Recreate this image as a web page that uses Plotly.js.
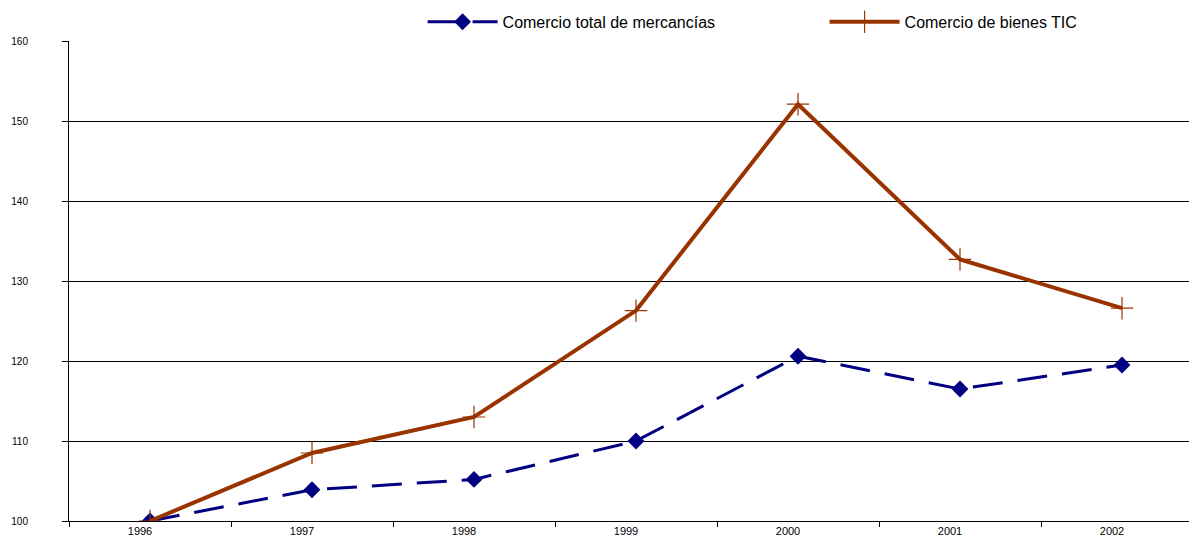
<!DOCTYPE html>
<html>
<head>
<meta charset="utf-8">
<script src="https://cdn.plot.ly/plotly-3.0.1.min.js"></script>
<style>
html,body{margin:0;padding:0;overflow:hidden;background:#fff;}
#chart{width:1203px;height:542px;}
</style>
</head>
<body>
<div id="chart"></div>
<script>
const years = ['1996','1997','1998','1999','2000','2001','2002'];
const totalTrade = [100, 103.9, 105.2, 110, 120.6, 116.5, 119.5];
const ictTrade = [100, 108.5, 113.0, 126.3, 152.1, 132.7, 126.6];
const yTicks = [100, 110, 120, 130, 140, 150, 160];

const traces = [
  {
    x: years, y: totalTrade, type: 'scatter', mode: 'lines+markers',
    name: 'Comercio total de mercancías',
    line: {color: '#000080', width: 3, dash: '30px,15px'},
    marker: {symbol: 'diamond', size: 13, color: '#000080'}
  },
  {
    x: years, y: ictTrade, type: 'scatter', mode: 'lines+markers',
    name: 'Comercio de bienes TIC',
    line: {color: '#993300', width: 4},
    marker: {symbol: 'cross-thin-open', size: 16, line: {color: '#993300', width: 1.2}}
  }
];

const layout = {
  width: 1203, height: 542,
  margin: {l: 69, r: 0, t: 41, b: 21, autoexpand: false},
  paper_bgcolor: '#fff', plot_bgcolor: '#fff',
  font: {family: 'Arial, "Liberation Sans", sans-serif', color: '#000'},
  showlegend: true,
  legend: {
    orientation: 'h', x: 0.3118, xanchor: 'left', y: 1.04, yanchor: 'middle',
    font: {size: 16, color: '#000'}, itemwidth: 70, entrywidth: 317,
    traceorder: 'normal', bgcolor: 'rgba(0,0,0,0)'
  },
  xaxis: {
    type: 'category', tickson: 'boundaries', ticks: 'outside', ticklen: 5,
    tickcolor: '#000', tickwidth: 1, showline: true, linecolor: '#000', linewidth: 1,
    showgrid: false, zeroline: false, tickfont: {size: 11}, ticklabelshift: -10,
    range: [-0.5, 6.5]
  },
  yaxis: {
    range: [100, 160], tickvals: yTicks, ticktext: yTicks.map(String),
    ticks: 'outside', ticklen: 6, tickcolor: '#000', showline: true,
    linecolor: '#000', linewidth: 1, showgrid: true, gridcolor: '#000', gridwidth: 1,
    zeroline: false, tickfont: {size: 10}, ticklabelstandoff: 32
  }
};

Plotly.newPlot('chart', traces, layout, {displayModeBar: false, staticPlot: true});
</script>
</body>
</html>
